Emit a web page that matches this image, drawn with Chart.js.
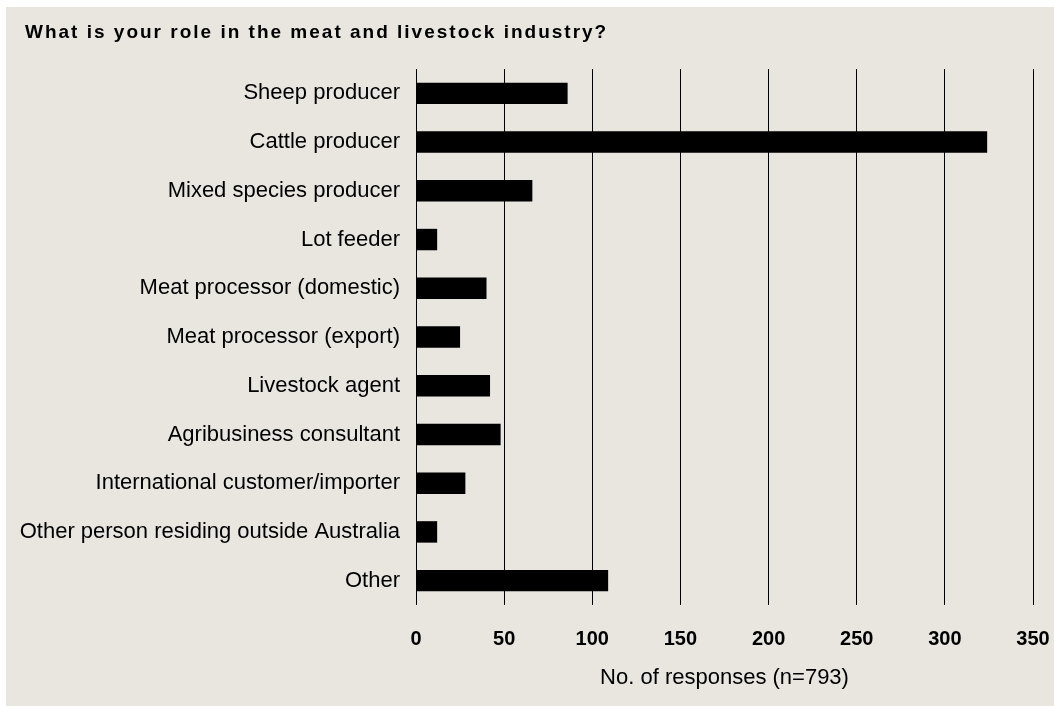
<!DOCTYPE html>
<html>
<head>
<meta charset="utf-8">
<script src="https://cdn.jsdelivr.net/npm/chart.js@4.4.1/dist/chart.umd.min.js"></script>
<style>
  html, body { margin: 0; padding: 0; background: #ffffff; }
  #wrap { position: absolute; left: 6px; top: 7px; width: 1048px; height: 699px; background: #E9E6E0; }
  canvas { display: block; }
</style>
</head>
<body>
<div id="wrap"><canvas id="c" width="1048" height="699"></canvas></div>
<script>
const titleText = "What is your role in the meat and livestock industry?";
const axisTitle = "No. of responses (n=793)";
const categories = [
  "Sheep producer",
  "Cattle producer",
  "Mixed species producer",
  "Lot feeder",
  "Meat processor (domestic)",
  "Meat processor (export)",
  "Livestock agent",
  "Agribusiness consultant",
  "International customer/importer",
  "Other person residing outside Australia",
  "Other"
];
const responses = [86, 324, 66, 12, 40, 25, 42, 48, 28, 12, 109];
const xTicks = [0, 50, 100, 150, 200, 250, 300, 350];

const FONT = "'Liberation Sans', Arial, Helvetica, sans-serif";

const spacedTitle = {
  id: 'spacedTitle',
  afterDraw(chart) {
    const ctx = chart.ctx;
    ctx.save();
    ctx.font = "bold 19px " + FONT;
    if ('letterSpacing' in ctx) ctx.letterSpacing = '2px';
    ctx.fillStyle = '#000000';
    ctx.textAlign = 'left';
    ctx.textBaseline = 'middle';
    ctx.fillText(titleText, 19, 26);
    ctx.restore();
  }
};

new Chart(document.getElementById('c'), {
  type: 'bar',
  data: {
    labels: categories,
    datasets: [{
      data: responses,
      backgroundColor: '#000000',
      borderWidth: 0,
      barPercentage: 0.88,
      categoryPercentage: 0.5
    }]
  },
  options: {
    indexAxis: 'y',
    responsive: false,
    animation: false,
    layout: { padding: { left: 0, right: 21, top: 62, bottom: 0 } },
    plugins: {
      legend: { display: false },
      tooltip: { enabled: false },
      title: { display: false }
    },
    scales: {
      x: {
        type: 'linear',
        min: 0,
        max: 350,
        afterBuildTicks: (scale) => { scale.ticks = xTicks.map(v => ({ value: v })); },
        afterFit: (scale) => { scale.height = 101; },
        grid: {
          display: true,
          color: '#000000',
          lineWidth: 1,
          drawTicks: true,
          tickLength: 20,
          tickColor: 'rgba(0,0,0,0)'
        },
        border: { display: false },
        ticks: {
          color: '#000000',
          padding: 2,
          maxRotation: 0,
          font: { family: FONT, size: 20, weight: 'bold' }
        },
        title: {
          display: true,
          text: axisTitle,
          color: '#000000',
          font: { family: FONT, size: 22 },
          padding: { top: 8, bottom: 15 }
        }
      },
      y: {
        afterFit: (scale) => { scale.width = 410; },
        grid: { display: false, drawTicks: false },
        border: { display: false },
        ticks: {
          color: '#000000',
          padding: 16,
          font: { family: FONT, size: 22 }
        }
      }
    }
  },
  plugins: [spacedTitle]
});
</script>
</body>
</html>
